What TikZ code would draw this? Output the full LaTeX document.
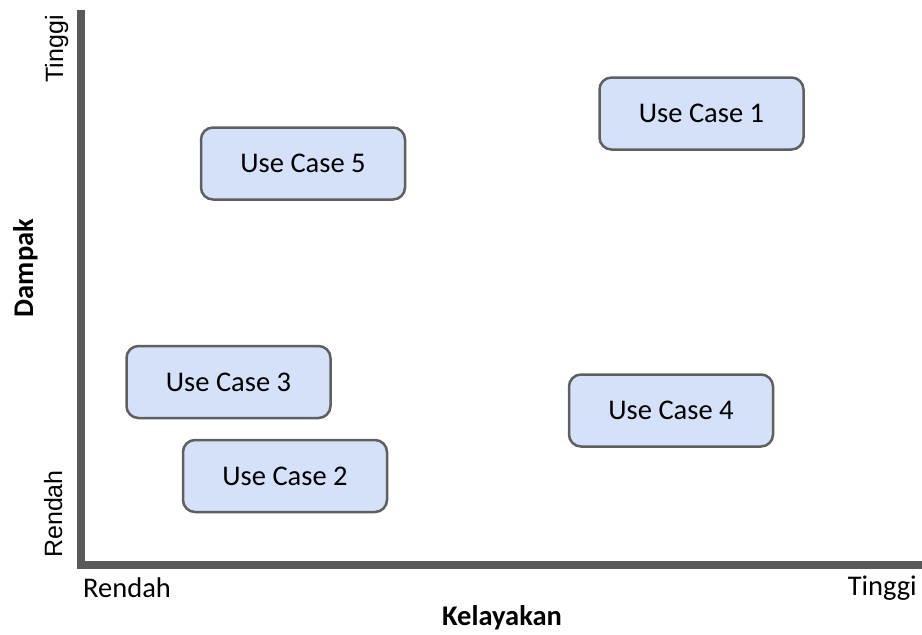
\documentclass[tikz,border=0pt]{standalone}
\usepackage{fontspec}
\setmainfont{Carlito}
\newfontfamily\axisfont{Liberation Sans}
\definecolor{axisgray}{HTML}{595959}
\definecolor{boxfill}{HTML}{D4E1F8}
\definecolor{boxline}{HTML}{5F5F5F}
\begin{document}
\begin{tikzpicture}[x=1pt,y=-1pt,
  ucbox/.style={draw=boxline,line width=2.5pt,fill=boxfill,rounded corners=12pt,
    minimum width=204pt,minimum height=72pt,inner sep=0pt,
    font=\fontsize{28.5}{34}\selectfont},
  lbl/.style={inner sep=0pt,font=\fontsize{28.5}{34}\selectfont},
  vlbl/.style={inner sep=0pt,rotate=90,font=\axisfont\fontsize{25}{30}\selectfont},
  ttl/.style={inner sep=0pt,font=\fontsize{28.5}{34}\selectfont\bfseries}]
\useasboundingbox (0,0) rectangle (922,635);
% axes
\coordinate (top) at (81,10);
\coordinate (origin) at (81,565);
\coordinate (right) at (922,565);
\draw[axisgray,line width=7.5pt,line join=miter] (top) -- (origin) -- (right);
% use case boxes
\node[ucbox] (uc1) at (701.5,113.5) {Use Case 1};
\node[ucbox] (uc5) at (303,163.5) {Use Case 5};
\node[ucbox] (uc3) at (228.5,382) {Use Case 3};
\node[ucbox] (uc4) at (671,410.5) {Use Case 4};
\node[ucbox] (uc2) at (285,476) {Use Case 2};
% axis labels
\node[lbl,anchor=base west] (xlow) at (83,597) {Rendah};
\node[lbl,anchor=base east] (xhigh) at (917,595) {Tinggi};
\node[ttl,anchor=base] (xtitle) at (502,625) {Kelayakan};
\node[vlbl,anchor=base east] (yhigh) at (63,15) {Tinggi};
\node[vlbl,anchor=base west] (ylow) at (62,558) {Rendah};
\node[ttl,rotate=90,anchor=base] (ytitle) at (33,268) {Dampak};
\end{tikzpicture}
\end{document}
